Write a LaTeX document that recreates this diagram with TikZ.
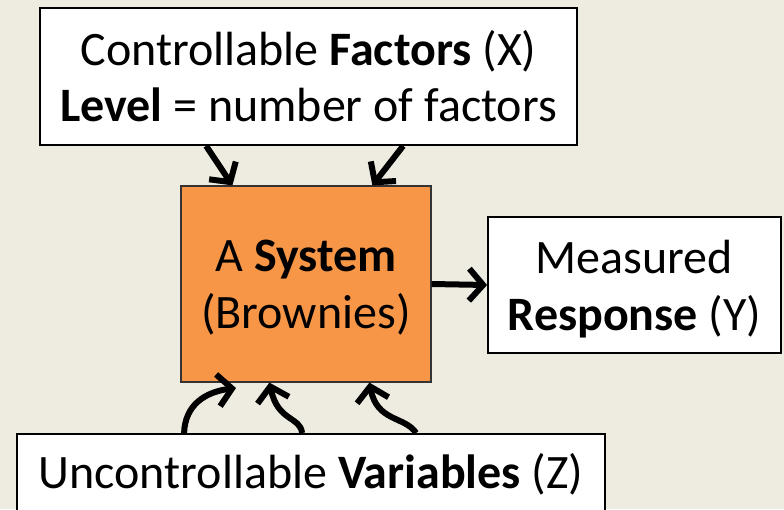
\documentclass[tikz,border=0pt]{standalone}
\usepackage{fontspec}
\setmainfont{Carlito}
\usetikzlibrary{arrows.meta,calc}
\definecolor{bg}{HTML}{EEECE1}
\definecolor{sysorange}{HTML}{F79646}
\tikzset{
  box/.style={draw=black, line width=1.8pt, fill=white, inner sep=0pt, align=center,
              font=\fontsize{48}{56}\selectfont},
  sysbox/.style={draw=black!80, line width=1.2pt, fill=sysorange, inner sep=0pt},
  txt/.style={inner sep=0pt, align=center, font=\fontsize{48}{57}\selectfont},
  arr/.style={line width=6pt, -{Straight Barb[length=14pt,width=32pt,line width=6pt]}},
}
\begin{document}
\begin{tikzpicture}[x=1pt,y=-1pt]
\useasboundingbox (0,0) rectangle (784,509);
\fill[bg] (0,0) rectangle (784,509);
\begin{scope}
\clip (0,0) rectangle (784,509);
\node[box, minimum width=537pt, minimum height=137pt] (top) at (308.5,76.5)
  {Controllable \textbf{Factors} (X)\\\textbf{Level} = number of factors};
\node[sysbox, minimum width=250pt, minimum height=196pt] (sys) at (306,284) {};
\node[txt] (systxt) at ([yshift=-4pt]sys.center) {A \textbf{System}\\(Brownies)};
\node[box, minimum width=293pt, minimum height=136pt] (resp) at (634.5,285) {};
\node[txt] (resptxt) at ([yshift=-4pt]resp.center) {Measured\\\textbf{Response} (Y)};
\node[box, minimum width=588pt, minimum height=110pt, anchor=north] (bot) at (311,433) {};
\node[font=\fontsize{48}{56}\selectfont, anchor=base] (bottxt) at (311,488)
  {Uncontrollable \textbf{Variables} (Z)};
\end{scope}
% top arrows
\coordinate (t1) at ($(top.south west)+(167,0)$);
\coordinate (t2) at ($(top.south west)+(364,0)$);
\coordinate (s1) at ($(sys.north west)+(52,0)$);
\coordinate (s2) at ($(sys.north west)+(192,0)$);
\draw[arr] (t1) -- (s1);
\draw[arr] (t2) -- (s2);
% right arrow
\draw[arr] (sys.east) -- (resp.west);
% bottom curvy arrows
\coordinate (b1) at ($(bot.north west)+(168,0)$);
\coordinate (b2) at ($(bot.north west)+(286,0)$);
\coordinate (b3) at ($(bot.north west)+(400,0)$);
\coordinate (e1) at (236,388);
\coordinate (e2) at ($(sys.south west)+(89,0)$);
\coordinate (e3) at ($(sys.south west)+(189,0)$);
\draw[arr] (b1) .. controls (185,405) and (205,392) .. (e1);
\draw[arr] (b2) .. controls (300,416) and (278,422) .. (e2);
\draw[arr] (b3) .. controls (405,416) and (377,422) .. (e3);
\end{tikzpicture}
\end{document}
